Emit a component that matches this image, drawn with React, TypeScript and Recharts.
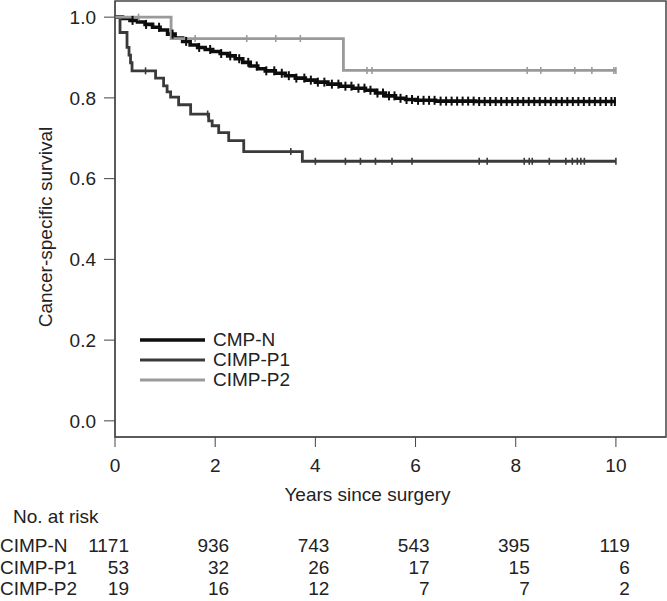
import React from 'react';
import { LineChart, Line, XAxis, YAxis, Legend, ReferenceArea } from 'recharts';

// x-axis ticks and the number-at-risk table
const years = [0, 2, 4, 6, 8, 10];
const tableNames = ['CIMP-N', 'CIMP-P1', 'CIMP-P2'];
const legendNames = ['CMP-N', 'CIMP-P1', 'CIMP-P2'];
const riskN = [1171, 936, 743, 543, 395, 119];
const riskP1 = [53, 32, 26, 17, 15, 6];
const riskP2 = [19, 16, 12, 7, 7, 2];
const riskRows = [riskN, riskP1, riskP2];

// CIMP-N (legend: CMP-N): event times and survival after each step
const nTimes = [0, 0.15, 0.3, 0.45, 0.6, 0.75, 0.9, 1.05, 1.2, 1.35, 1.5, 1.65, 1.8, 1.95, 2.1, 2.25, 2.4, 2.55, 2.7, 2.85, 3.0, 3.2, 3.4, 3.6, 3.8, 4.0, 4.25, 4.5, 4.75, 5.0, 5.2, 5.4, 5.6, 5.8, 6.0, 6.4, 7.2];
const nSurv = [1.0, 0.997, 0.992, 0.988, 0.982, 0.975, 0.968, 0.958, 0.948, 0.94, 0.931, 0.925, 0.92, 0.915, 0.91, 0.904, 0.897, 0.888, 0.879, 0.872, 0.867, 0.861, 0.855, 0.849, 0.844, 0.839, 0.834, 0.829, 0.824, 0.819, 0.812, 0.805, 0.799, 0.796, 0.794, 0.792, 0.791];
const nCensor = [0.35, 0.62, 0.88, 1.15, 1.42, 1.68, 1.9, 2.12, 2.3, 2.48, 2.66, 2.83, 3.02, 3.18, 3.33, 3.47, 3.62, 3.78, 3.91, 4.05, 4.18, 4.33, 4.46, 4.6, 4.72, 4.86, 4.98, 5.1, 5.24, 5.35, 5.47, 5.58, 5.7, 5.82, 5.93, 6.05, 6.16, 6.27, 6.38, 6.5, 6.61, 6.72, 6.83, 6.94, 7.05, 7.16, 7.27, 7.38, 7.49, 7.6, 7.71, 7.82, 7.93, 8.04, 8.15, 8.26, 8.37, 8.48, 8.59, 8.7, 8.81, 8.92, 9.03, 9.14, 9.25, 9.36, 9.47, 9.58, 9.69, 9.8, 9.91, 9.98];

// CIMP-P1
const p1Times = [0, 0.1, 0.24, 0.28, 0.31, 0.34, 0.81, 0.97, 1.04, 1.11, 1.27, 1.51, 1.87, 1.94, 2.07, 2.27, 2.57, 3.74];
const p1Surv = [1.0, 0.962, 0.925, 0.906, 0.887, 0.867, 0.849, 0.83, 0.815, 0.802, 0.783, 0.76, 0.743, 0.731, 0.714, 0.694, 0.667, 0.643];
const p1Censor = [0.61, 1.85, 3.51, 4.0, 4.6, 4.9, 5.2, 5.53, 5.93, 7.27, 7.43, 8.17, 8.27, 8.33, 8.67, 9.0, 9.13, 9.23, 9.3, 9.37, 10.0];

// CIMP-P2
const p2Times = [0, 1.12, 4.56];
const p2Surv = [1.0, 0.947, 0.868];
const p2Censor = [0.47, 1.6, 2.63, 3.21, 3.7, 5.03, 5.13, 8.23, 8.5, 9.18, 9.52, 9.96, 10.0];

const colors = ['#0d0d0d', '#3a3a3a', '#9a9a9a'];
const widths = [3.6, 2.8, 2.8];
const font = '"Liberation Sans", Arial, sans-serif';
const fs = 19;
const textColor = '#222';

type Pt = { t: number; s: number; c: boolean };

function buildCurve(times: number[], surv: number[], censor: number[]): Pt[] {
    const rows: Pt[] = times.map((t, i) => ({ t, s: surv[i], c: false }));
    censor.forEach(ct => {
        let k = 0;
        times.forEach((t, i) => { if (t <= ct) k = i; });
        rows.push({ t: ct, s: surv[k], c: true });
    });
    rows.sort((a, b) => a.t - b.t);
    const last = rows[rows.length - 1];
    if (last.t < 10) rows.push({ t: 10, s: last.s, c: false });
    return rows;
}

const curves = [
    buildCurve(nTimes, nSurv, nCensor),
    buildCurve(p1Times, p1Surv, p1Censor),
    buildCurve(p2Times, p2Surv, p2Censor),
];

const censorDot = (color: string, half: number, w: number) => (props: any) => {
    const { cx, cy, payload, index } = props;
    if (!payload || !payload.c) return <g key={`d${index}`} />;
    return <line key={`d${index}`} x1={cx} x2={cx} y1={cy - half} y2={cy + half} stroke={color} strokeWidth={w} />;
};

// x tick label plus the number-at-risk column under it
const YearTick = (props: any) => {
    const { x, y, payload } = props;
    const idx = years.indexOf(payload.value);
    return (
        <g fontFamily={font} fontSize={fs} fill={textColor}>
            <text x={x} y={y + 25} textAnchor="middle" fill={textColor}>{payload.value}</text>
            {riskRows.map((row, r) => (
                <text key={r} x={x + 14} y={y + 105 + r * 21.5} textAnchor="end" fill={textColor}>{row[idx]}</text>
            ))}
            {payload.value === 0 && (
                <g>
                    <text x={x - 102} y={y + 76} fill={textColor}>No. at risk</text>
                    {tableNames.map((n, r) => (
                        <text key={n} x={x - 115} y={y + 105 + r * 21.5} fill={textColor}>{n}</text>
                    ))}
                </g>
            )}
        </g>
    );
};

const LegendBox = () => (
    <div style={{ fontFamily: font, fontSize: fs, color: textColor }}>
        {legendNames.map((n, i) => (
            <div key={n} style={{ display: 'flex', alignItems: 'center', height: 20 }}>
                <svg width={73} height={20}>
                    <line x1={0} x2={65} y1={10} y2={10} stroke={colors[i]} strokeWidth={widths[i]} />
                </svg>
                <span style={{ lineHeight: '20px' }}>{n}</span>
            </div>
        ))}
    </div>
);

const YLabel = (props: any) => {
    const vb = props.viewBox;
    const cy = vb.y + vb.height / 2 + 8;
    return (
        <text x={52} y={cy} transform={`rotate(-90, 52, ${cy})`} textAnchor="middle"
            fontFamily={font} fontSize={fs} fill={textColor}>
            Cancer-specific survival
        </text>
    );
};

const App: React.FC = () => {
    return (
        <div style={{ position: 'absolute', left: 0, top: 0, background: '#fff' }}>
            <LineChart width={667} height={601} margin={{ top: 1, right: 1, left: 0, bottom: 0 }}>
                <XAxis
                    dataKey="t"
                    type="number"
                    domain={[0, 11]}
                    ticks={years}
                    allowDataOverflow
                    height={164}
                    stroke="#444"
                    tickSize={10}
                    tickMargin={0}
                    tick={<YearTick />}
                    label={{ value: 'Years since surgery', position: 'insideTop', offset: 51, dx: -23, fontSize: fs, fontFamily: font, fill: textColor }}
                />
                <YAxis
                    type="number"
                    domain={[-0.04, 1.04]}
                    ticks={[0, 0.2, 0.4, 0.6, 0.8, 1.0]}
                    allowDataOverflow
                    width={115}
                    stroke="#444"
                    tickSize={11}
                    tickMargin={8}
                    tickFormatter={(v: number) => v.toFixed(1)}
                    tick={{ fontSize: fs, fontFamily: font, fill: textColor }}
                    label={{ content: <YLabel /> }}
                />
                <ReferenceArea x1={0} x2={11} y1={-0.04} y2={1.04} fill="none" stroke="#444" strokeWidth={1.5} ifOverflow="visible" />
                {curves.map((data, i) => (
                    <Line
                        key={legendNames[i]}
                        name={legendNames[i]}
                        data={data}
                        dataKey="s"
                        type="stepAfter"
                        stroke={colors[i]}
                        strokeWidth={widths[i]}
                        dot={censorDot(colors[i], i === 0 ? 4.5 : 3.5, i === 0 ? 2 : 1.6)}
                        activeDot={false}
                        isAnimationActive={false}
                    />
                ))}
                <Legend
                    layout="vertical"
                    verticalAlign="middle"
                    align="center"
                    content={<LegendBox />}
                    wrapperStyle={{ left: 140, top: 330, width: 'auto', height: 'auto' }}
                />
            </LineChart>
        </div>
    );
};

export default App;
